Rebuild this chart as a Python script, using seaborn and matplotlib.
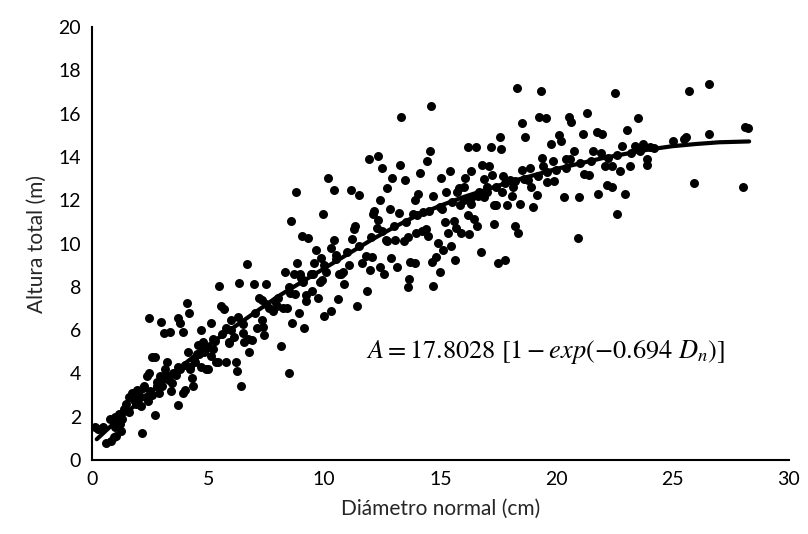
import pandas as pd
import matplotlib
matplotlib.use("Agg")
import matplotlib.pyplot as plt
import seaborn as sns


# DATA
diametro = [
    0.11, 0.26, 0.48, 0.59, 0.81, 0.93, 1.04, 1.26, 0.75, 0.97, 1.15, 1.37, 1.19, 1.48, 1.59, 1.70,
    1.81, 1.92, 2.03, 2.16, 2.25, 2.36, 2.47, 2.47, 2.58, 2.69, 2.69, 2.80, 2.91, 2.97, 3.08, 3.13,
    3.24, 3.35, 3.46, 3.57, 3.68, 3.68, 3.79, 3.90, 3.90, 4.01, 4.07, 4.12, 4.19, 4.23, 4.34, 4.45,
    4.56, 4.67, 4.78, 4.89, 5.00, 5.11, 5.11, 5.22, 5.33, 5.44, 5.48, 5.55, 5.66, 5.77, 5.77, 5.88,
    5.99, 6.10, 6.21, 6.26, 6.32, 6.43, 6.48, 6.54, 6.65, 6.76, 6.87, 6.98, 7.09, 7.20, 7.31, 7.36,
    7.42, 7.47, 7.64, 7.86, 7.97, 8.15, 8.24, 8.30, 8.41, 8.46, 8.52, 8.57, 8.63, 8.74, 8.77, 8.81,
    8.90, 8.96, 9.03, 9.07, 9.14, 9.23, 9.30, 9.41, 9.47, 9.56, 9.63, 9.74, 9.85, 9.91, 9.96, 10.00,
    10.07, 10.18, 10.29, 10.40, 10.44, 10.51, 10.57, 10.62, 10.73, 10.84, 11.06, 11.17, 11.28, 11.32,
    11.39, 11.50, 11.61, 11.83, 11.94, 11.98, 12.05, 12.11, 12.16, 12.27, 12.33, 12.38, 12.42, 12.49,
    12.56, 12.64, 12.71, 12.82, 12.86, 12.93, 13.04, 13.15, 13.26, 13.30, 13.44, 13.48, 13.59, 13.66,
    13.70, 13.81, 13.92, 13.96, 14.03, 14.14, 14.25, 14.36, 14.41, 14.47, 14.54, 14.58, 14.63, 14.69,
    14.80, 14.91, 14.98, 15.02, 15.07, 15.13, 15.24, 15.35, 15.42, 15.46, 15.57, 15.64, 15.68, 15.79,
    15.86, 15.90, 16.01, 16.08, 16.17, 16.23, 16.30, 16.34, 16.45, 16.52, 16.56, 16.67, 16.74, 16.78,
    16.89, 17.00, 17.11, 17.18, 17.22, 17.33, 17.40, 17.49, 17.56, 17.62, 17.67, 17.78, 17.89, 17.99,
    18.11, 18.22, 18.28, 18.33, 18.44, 18.50, 18.66, 18.77, 18.88, 18.99, 19.16, 19.25, 19.32, 19.38,
    19.54, 19.60, 19.76, 19.87, 20.09, 20.20, 20.31, 20.42, 20.53, 20.64, 20.75, 20.93, 20.97, 21.15,
    21.30, 21.41, 21.59, 21.74, 21.81, 21.96, 22.07, 22.18, 22.40, 22.51, 22.62, 22.73, 22.84, 22.95,
    23.06, 23.17, 23.50, 23.72, 23.88, 24.05, 25.04, 25.48, 25.59, 25.70, 25.93, 26.59, 26.59, 28.02,
    28.13, 28.24,
    # points sitting on the fitted line
    1.0, 1.3, 1.6, 1.9, 2.1, 2.3, 2.5, 2.6, 2.8, 3.0, 3.1, 3.3, 3.5, 3.6, 3.8, 4.0, 4.2, 4.4, 4.6,
    4.8, 5.0, 5.3, 5.6, 6.0, 6.5, 7.0, 7.5, 8.0, 8.5, 9.0, 9.5, 10.0, 10.5, 11.0, 11.5, 12.0, 12.5,
    13.0, 13.5, 14.0, 14.5, 15.0, 15.5, 16.0, 16.3, 16.6, 17.0, 17.4, 17.8, 18.2, 18.6, 19.2, 19.6,
    20.0, 20.4, 21.0, 21.5, 22.2, 22.6, 23.2, 23.6, 24.2,
    # extra points in the dense band around the line
    2.2, 2.4, 2.9, 3.2, 3.4, 3.7, 4.3, 4.5, 4.7, 5.2, 5.9, 6.3, 6.7, 7.3, 7.8, 8.7, 9.2, 9.8,
    10.3, 10.8, 11.2, 11.8, 12.3, 12.7, 13.2, 13.6, 13.9, 14.2, 14.7, 15.2, 15.7, 16.2, 16.9, 17.3,
    17.7, 18.1, 18.5, 18.9, 19.4, 19.9, 20.6, 21.2, 21.9, 22.4, 23.4, 23.9,
]
altura = [
    1.50, 1.42, 1.50, 0.76, 0.87, 1.03, 1.10, 1.34, 1.89, 1.97, 2.13, 2.37, 1.66, 2.60, 2.92, 3.08,
    2.76, 3.24, 3.00, 1.22, 3.39, 3.87, 4.03, 6.55, 4.74, 4.74, 2.05, 3.39, 3.87, 6.35, 5.84, 4.18,
    4.50, 5.92, 3.55, 4.03, 6.55, 2.53, 6.31, 5.92, 3.08, 3.24, 7.26, 4.97, 6.79, 4.18, 3.39, 4.50,
    5.29, 6.00, 5.45, 4.18, 4.18, 4.81, 6.31, 5.13, 4.50, 4.50, 8.05, 7.10, 6.95, 4.50, 6.08, 5.45,
    6.47, 5.68, 4.50, 4.10, 8.16, 3.39, 5.84, 5.45, 9.05, 4.97, 5.53, 8.13, 6.08, 7.50, 6.47, 6.16,
    5.76, 8.13, 7.02, 7.34, 7.10, 5.24, 7.02, 8.68, 7.02, 4.03, 7.73, 11.05, 6.31, 7.66, 12.36, 9.08,
    6.79, 8.60, 10.34, 8.21, 6.08, 7.34, 10.26, 8.60, 7.81, 9.08, 9.71, 7.50, 9.31, 8.29, 11.37, 6.63,
    8.68, 13.02, 6.87, 10.18, 12.47, 9.47, 7.42, 8.60, 8.60, 8.13, 9.00, 12.47, 10.66, 10.81,
    7.10, 12.23, 9.08, 7.81, 13.89, 8.76, 9.39, 11.37, 11.52, 10.73, 14.05, 8.92, 12.00, 13.50,
    8.60, 10.18, 12.55, 11.60, 9.31, 13.02, 10.18, 8.92, 13.65, 15.86, 10.10, 12.94, 7.97, 8.37,
    9.16, 11.37, 9.08, 10.50, 12.31, 13.26, 11.44, 10.66, 13.81, 10.34, 14.29, 16.34, 9.16, 8.05,
    9.39, 10.02, 8.68, 13.02, 11.60, 9.71, 12.39, 10.50, 13.34, 9.87, 11.05, 9.23, 10.73, 12.55,
    11.76, 10.50, 12.63, 13.02, 14.44, 10.42, 11.84, 13.34, 11.13, 14.44, 10.81, 12.39, 9.63, 13.65,
    12.16, 12.63, 13.58, 14.44, 13.18, 10.89, 11.76, 9.08, 14.92, 14.36, 12.39, 9.23, 11.76, 12.94,
    12.63, 10.81, 17.21, 10.50, 11.84, 15.55, 14.92, 12.94, 13.50, 11.68, 12.23, 15.86, 17.05, 13.97,
    15.79, 12.86, 14.60, 13.81, 15.00, 14.76, 12.16, 13.89, 15.86, 15.63, 14.29, 10.26, 12.16, 15.08,
    16.02, 13.18, 14.29, 15.16, 12.31, 15.08, 13.58, 12.71, 12.63, 16.97, 11.37, 13.34, 14.52, 12.31,
    15.23, 13.58, 15.79, 14.60, 13.65, 14.44, 14.76, 14.84, 14.92, 17.05, 12.79, 17.36, 15.08, 12.63,
    15.39, 15.36,
    # points sitting on the fitted line
    1.5, 1.9, 2.2, 2.6, 2.5, 2.9, 3.2, 3.0, 3.6, 3.4, 3.8, 3.7, 4.0, 3.9, 4.2, 4.4, 4.3, 4.6, 4.9,
    5.0, 5.2, 5.5, 5.8, 6.0, 6.3, 6.8, 7.2, 7.5, 8.0, 8.4, 8.6, 9.0, 9.3, 9.6, 9.9, 10.3, 10.6,
    10.8, 11.0, 11.3, 11.5, 11.7, 11.9, 12.0, 12.1, 12.2, 12.4, 12.6, 12.8, 12.9, 13.0, 13.1, 13.3,
    13.4, 13.5, 13.7, 13.8, 13.95, 14.1, 14.2, 14.3, 14.4,
    # extra points in the dense band around the line
    3.3, 2.7, 3.1, 3.9, 3.2, 4.3, 3.8, 4.9, 4.3, 5.6, 5.4, 6.6, 5.6, 7.4, 6.9, 8.6, 7.6, 8.2,
    9.8, 8.7, 10.2, 9.4, 11.1, 10.1, 11.4, 10.3, 12.0, 10.6, 12.2, 11.0, 12.4, 11.3, 13.0, 11.8,
    13.1, 12.2, 13.4, 12.6, 13.6, 12.9, 13.9, 13.2, 14.2, 13.6, 14.5, 13.9,
]

# fitted curve as drawn in the chart
curva_x = [0.2, 1, 2, 3, 4, 5, 6, 7, 8, 9, 10, 11, 12, 13, 14, 15, 16, 17, 18, 19, 20,
           21, 22, 23, 24, 25, 26, 27, 28.3]
curva_y = [0.95, 1.75, 2.65, 3.55, 4.45, 5.3, 6.05, 6.8, 7.55, 8.2, 8.85, 9.5, 10.15, 10.75,
           11.3, 11.75, 12.15, 12.5, 12.85, 13.15, 13.45, 13.7, 13.95, 14.15, 14.35, 14.5,
           14.6, 14.68, 14.72]

x_ticks = [0, 5, 10, 15, 20, 25, 30]
y_ticks = [0, 2, 4, 6, 8, 10, 12, 14, 16, 18, 20]

df = pd.DataFrame({"Diametro": diametro, "Altura": altura})
df_curva = pd.DataFrame({"x": curva_x, "y": curva_y})


# PLOT
sns.set_style("white")
plt.rcParams["font.family"] = ["Lato", "DejaVu Sans"]
plt.rcParams["mathtext.fontset"] = "stix"

fig = plt.figure(figsize=(8.08, 5.34), dpi=100)
ax = fig.add_axes([0.114, 0.139, 0.862, 0.81])

sns.scatterplot(data=df, x="Diametro", y="Altura", ax=ax,
                color="black", s=42, edgecolor="black", linewidth=0)
sns.lineplot(data=df_curva, x="x", y="y", ax=ax, color="black", linewidth=3)

ax.set_xlim(0, 30)
ax.set_ylim(0, 20)
ax.set_xticks(x_ticks)
ax.set_yticks(y_ticks)
ax.tick_params(axis="both", length=0, labelsize=14, pad=8, colors="black")

ax.set_xlabel("Diámetro normal (cm)", fontsize=15, labelpad=8)
ax.set_ylabel("Altura total (m)", fontsize=15, labelpad=8)

for side in ["top", "right"]:
    ax.spines[side].set_visible(False)
for side in ["left", "bottom"]:
    ax.spines[side].set_color("black")
    ax.spines[side].set_linewidth(1.5)

ax.text(11.8, 5.0, r"$A = 17.8028\ [1 - exp(-0.694\ D_n)]$",
        fontsize=19, color="black", va="center", ha="left")

plt.savefig("out.png", dpi=100)
plt.close()
